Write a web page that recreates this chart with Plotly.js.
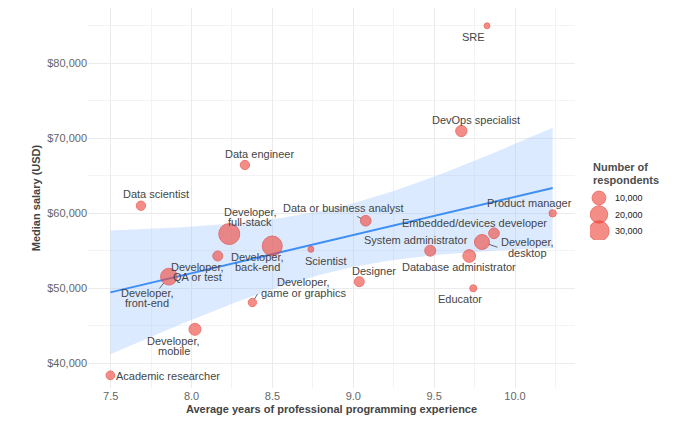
<!DOCTYPE html>
<html><head><meta charset="utf-8">
<script src="https://cdn.plot.ly/plotly-3.0.1.min.js"></script>
<style>html,body{margin:0;padding:0;background:#fff;}#chart{width:687px;height:426px;}</style>
</head><body><div id="chart"></div>
<script>
// ---- data ----
const roles = ["SRE","DevOps specialist","Data engineer","Data scientist","Developer, full-stack",
  "Developer, back-end","Developer, front-end","Developer, QA or test","Scientist","Data or business analyst",
  "Developer, game or graphics","Developer, mobile","Academic researcher","Designer","System administrator",
  "Database administrator","Developer, desktop","Embedded/devices developer","Product manager","Educator"];
const avgYears = [9.827,9.668,8.330,7.687,8.233,8.499,7.860,8.162,8.738,9.077,
  8.376,8.021,7.498,9.037,9.476,9.717,9.796,9.870,10.233,9.742];
const medianSalary = [85000,70970,66440,61010,57240,55640,51550,54310,55200,59010,
  48110,44530,38400,50880,55010,54310,56170,57330,60000,50000];
const respondents = [100,5100,2400,2400,33000,29000,17700,3200,130,4200,
  1400,6300,1770,3200,4650,7650,12900,4200,680,520];
const legendValues = [10000,20000,30000];
const legendLabels = ["10,000","20,000","30,000"];

// ---- styling / label placement (pixel offsets of label centres from points) ----
const labelOffsets = {
  "SRE":[-13.7,11],"DevOps specialist":[14.7,-11],"Data engineer":[14.7,-10.7],"Data scientist":[14.8,-11.4],
  "Developer, full-stack":[21,-17],"Developer, back-end":[-15,16],"Developer, front-end":[-21.5,21],
  "Developer, QA or test":[-20,16],"Scientist":[15,11.4],"Data or business analyst":[-23,-12.4],
  "Developer, game or graphics":[51,-15],"Developer, mobile":[-21,16.7],"Academic researcher":[58,0.5],
  "Designer":[15,-10.7],"System administrator":[-14,-10.7],"Database administrator":[-10,11.3],
  "Developer, desktop":[45.5,5.5],"Embedded/devices developer":[-19.3,-10.6],"Product manager":[-22.7,-10],
  "Educator":[-13.3,11]
};
const leaderTails = {
  "Data or business analyst":[-10,-5],"Developer, desktop":[17,5.7],
  "Developer, front-end":[-10.7,13.3],"Developer, game or graphics":[6,-9.8]
};
const FONT = "Liberation Sans, Arial, sans-serif";
const sizeOf = n => 5 + 0.088*Math.sqrt(n);
const POINT_FILL = "rgba(240,72,62,0.88)";
const POINT_LINE = "rgba(228,55,45,0.95)";

// ---- linear fit with 95% confidence band ----
const n = avgYears.length;
const mx = avgYears.reduce((a,b)=>a+b,0)/n;
const my = medianSalary.reduce((a,b)=>a+b,0)/n;
let sxx=0, sxy=0;
for(let i=0;i<n;i++){ sxx += (avgYears[i]-mx)**2; sxy += (avgYears[i]-mx)*(medianSalary[i]-my); }
const slope = sxy/sxx, icpt = my - slope*mx;
let sse=0;
for(let i=0;i<n;i++){ sse += (medianSalary[i]-(icpt+slope*avgYears[i]))**2; }
const sRes = Math.sqrt(sse/(n-2));
const T_CRIT = 2.100922; // t quantile 0.975, df = 18
const xmin = Math.min(...avgYears), xmax = Math.max(...avgYears);
const N_SMOOTH = 80;
const gx=[], gfit=[], glo=[], ghi=[];
for(let k=0;k<N_SMOOTH;k++){
  const x = xmin + (xmax-xmin)*k/(N_SMOOTH-1);
  const f = icpt + slope*x;
  const se = sRes*Math.sqrt(1/n + (x-mx)**2/sxx);
  gx.push(x); gfit.push(f); glo.push(f-T_CRIT*se); ghi.push(f+T_CRIT*se);
}

const sizes = respondents.map(sizeOf);
const traces = [
  {x:gx, y:glo, mode:"lines", line:{width:0, color:"rgba(0,0,0,0)"}, hoverinfo:"skip", showlegend:false},
  {x:gx, y:ghi, mode:"lines", fill:"tonexty", fillcolor:"rgba(153,194,255,0.35)", line:{width:0, color:"rgba(0,0,0,0)"}, hoverinfo:"skip", showlegend:false},
  {x:gx, y:gfit, mode:"lines", line:{color:"#3d8ef5", width:2}, hoverinfo:"skip", showlegend:false},
  {x:avgYears, y:medianSalary, text:roles, mode:"markers", type:"scatter", showlegend:false,
   marker:{size:sizes, sizemode:"diameter", color:POINT_FILL, line:{color:POINT_LINE, width:1}}},
  {x:legendValues.map(()=>9), y:legendValues.map((v,i)=>42-i*16.5), xaxis:"x2", yaxis:"y2", mode:"markers",
   showlegend:false, hoverinfo:"skip",
   marker:{size:legendValues.map(sizeOf), color:POINT_FILL, line:{color:POINT_LINE, width:1}}}
];

const annotations = [];
const LINE_GAP = 10.3;
roles.forEach((r,i)=>{
  const [dx,dy] = labelOffsets[r];
  const lines = r.startsWith("Developer, ") ? ["Developer,", r.slice(11)] : [r];
  lines.forEach((t,j)=>{
    const off = (j-(lines.length-1)/2)*LINE_GAP;
    annotations.push({x:avgYears[i], y:medianSalary[i], xref:"x", yref:"y", text:t, showarrow:false,
      xshift:dx, yshift:-(dy+off), xanchor:"center", yanchor:"middle",
      font:{family:FONT, size:11, color:"#454545"}});
  });
  if(leaderTails[r]){
    const [ax,ay] = leaderTails[r];
    annotations.push({x:avgYears[i], y:medianSalary[i], xref:"x", yref:"y", text:"", showarrow:true,
      arrowhead:0, arrowwidth:0.9, arrowcolor:"#555", ax:ax, ay:ay, standoff:sizes[i]/2});
  }
});
legendValues.forEach((v,i)=>{
  annotations.push({x:23, y:42-i*16.5, xref:"x2", yref:"y2", text:legendLabels[i], showarrow:false,
    xanchor:"left", yanchor:"middle", font:{family:FONT, size:9, color:"#1a1a1a"}});
});
annotations.push({x:(591-88)/599, y:(388-167)/380, xref:"paper", yref:"paper", text:"<b>Number of</b>", showarrow:false,
  xanchor:"left", yanchor:"middle", font:{family:FONT, size:11, color:"#4d4d4d"}});
annotations.push({x:(591-88)/599, y:(388-180)/380, xref:"paper", yref:"paper", text:"<b>respondents</b>", showarrow:false,
  xanchor:"left", yanchor:"middle", font:{family:FONT, size:11, color:"#4d4d4d"}});

const layout = {
  width:687, height:426,
  margin:{l:88, r:0, t:8, b:38, pad:0},
  paper_bgcolor:"#fff", plot_bgcolor:"#fff",
  font:{family:FONT, size:11, color:"#4d4d4d"},
  showlegend:false,
  xaxis:{domain:[0,487/599], range:[7.3596,10.371], tick0:7.5, dtick:0.5, tickformat:".1f",
    showgrid:true, gridcolor:"#ebebeb", gridwidth:1, zeroline:false, showline:false, ticks:"",
    minor:{tick0:7.5, dtick:0.25, showgrid:true, gridcolor:"#f3f3f3", gridwidth:1},
    tickfont:{family:FONT, size:11, color:"#666"}, automargin:false,
    title:{text:"<b>Average years of professional programming experience</b>", standoff:4,
      font:{family:FONT, size:11, color:"#444"}}},
  yaxis:{range:[36707,87373], tick0:0, dtick:10000, tickprefix:"$", tickformat:",d",
    showgrid:true, gridcolor:"#ebebeb", gridwidth:1, zeroline:false, showline:false, ticks:"",
    minor:{tick0:0, dtick:5000, showgrid:true, gridcolor:"#f3f3f3", gridwidth:1},
    tickfont:{family:FONT, size:11, color:"#666"}, automargin:false,
    title:{text:"<b>Median salary (USD)</b>", standoff:4, font:{family:FONT, size:11, color:"#444"}}},
  xaxis2:{domain:[(590-88)/599,(640-88)/599], range:[0,50], visible:false, anchor:"y2", fixedrange:true},
  yaxis2:{domain:[(388-240)/380,(388-190)/380], range:[0,50], visible:false, anchor:"x2", fixedrange:true},
  annotations:annotations
};
Plotly.newPlot("chart", traces, layout, {displayModeBar:false, staticPlot:true});
</script></body></html>
